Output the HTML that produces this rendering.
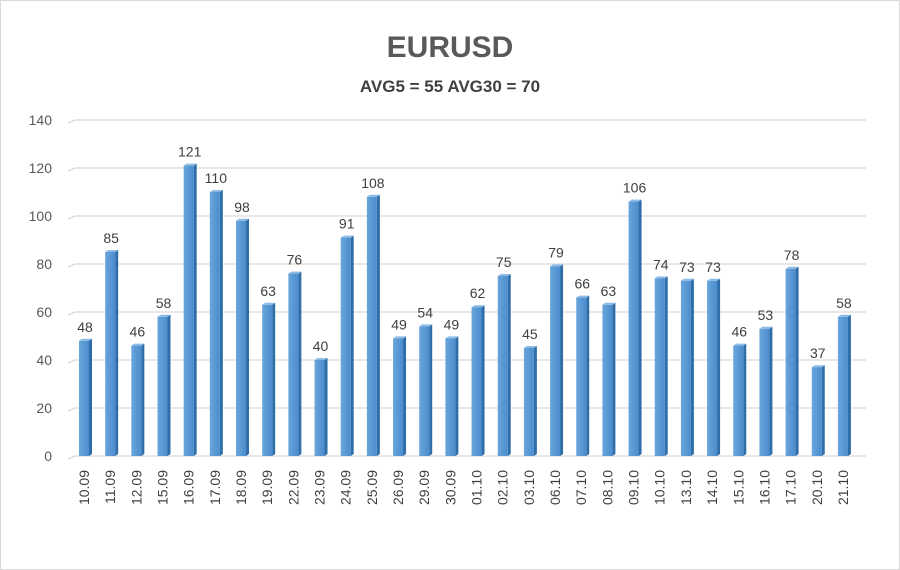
<!DOCTYPE html>
<html><head><meta charset="utf-8"><style>
body{margin:0;background:#fff;}
svg{display:block;font-family:"Liberation Sans",sans-serif;}
</style></head><body>
<svg width="900" height="570" viewBox="0 0 900 570">
<defs>
<linearGradient id="f" x1="0" x2="1" y1="0" y2="0"><stop offset="0" stop-color="#6aa6dc"/><stop offset="1" stop-color="#4a8ccc"/></linearGradient>
</defs>
<rect x="0.5" y="0.5" width="899" height="569" fill="#fff" stroke="#d9d9d9"/>
<text x="450" y="57" text-anchor="middle" font-size="30" font-weight="bold" fill="#595959">EURUSD</text>
<text x="450" y="92" text-anchor="middle" font-size="17" font-weight="bold" fill="#404040">AVG5 = 55 AVG30 = 70</text>
<g id="grid"></g>
<g id="bars"></g>
<script>
var vals=[48,85,46,58,121,110,98,63,76,40,91,108,49,54,49,62,75,45,79,66,63,106,74,73,73,46,53,78,37,58];
var labs=["10.09","11.09","12.09","15.09","16.09","17.09","18.09","19.09","22.09","23.09","24.09","25.09","26.09","29.09","30.09","01.10","02.10","03.10","06.10","07.10","08.10","09.10","10.10","13.10","14.10","15.10","16.10","17.10","20.10","21.10"];
var ns="http://www.w3.org/2000/svg",g=document.getElementById("grid"),b=document.getElementById("bars");
function el(p,t,a,txt){var e=document.createElementNS(ns,t);for(var k in a)e.setAttribute(k,a[k]);if(txt!=null)e.textContent=txt;p.appendChild(e);return e;}
var y0=456,s=2.4;
for(var v=0;v<=140;v+=20){var y=y0-v*s;
el(g,"polyline",{points:"68,"+(y+3)+" 75,"+y+" 866,"+y,fill:"none",stroke:"#d9d9d9","stroke-width":1.3});
el(g,"text",{x:52,y:y+5,"text-anchor":"end","font-size":14,fill:"#595959"},v);}
for(var i=0;i<30;i++){var x=79+i*26.17,h=vals[i]*s,t=y0-h;
el(b,"polygon",{points:(x+10)+","+t+" "+(x+13)+","+(t-2)+" "+(x+13)+","+(y0-2)+" "+(x+10)+","+y0,fill:"#2f6ea8"});
el(b,"polygon",{points:x+","+t+" "+(x+3)+","+(t-2)+" "+(x+13)+","+(t-2)+" "+(x+10)+","+t,fill:"#8cbce6"});
el(b,"rect",{x:x,y:t,width:10,height:h,fill:"url(#f)"});
el(b,"text",{x:x+6,y:t-9,"text-anchor":"middle","font-size":14,fill:"#404040"},vals[i]);
el(b,"text",{transform:"translate("+(x+10)+",470) rotate(-90)","text-anchor":"end","font-size":14,fill:"#404040"},labs[i]);}
</script>
</svg>
</body></html>
